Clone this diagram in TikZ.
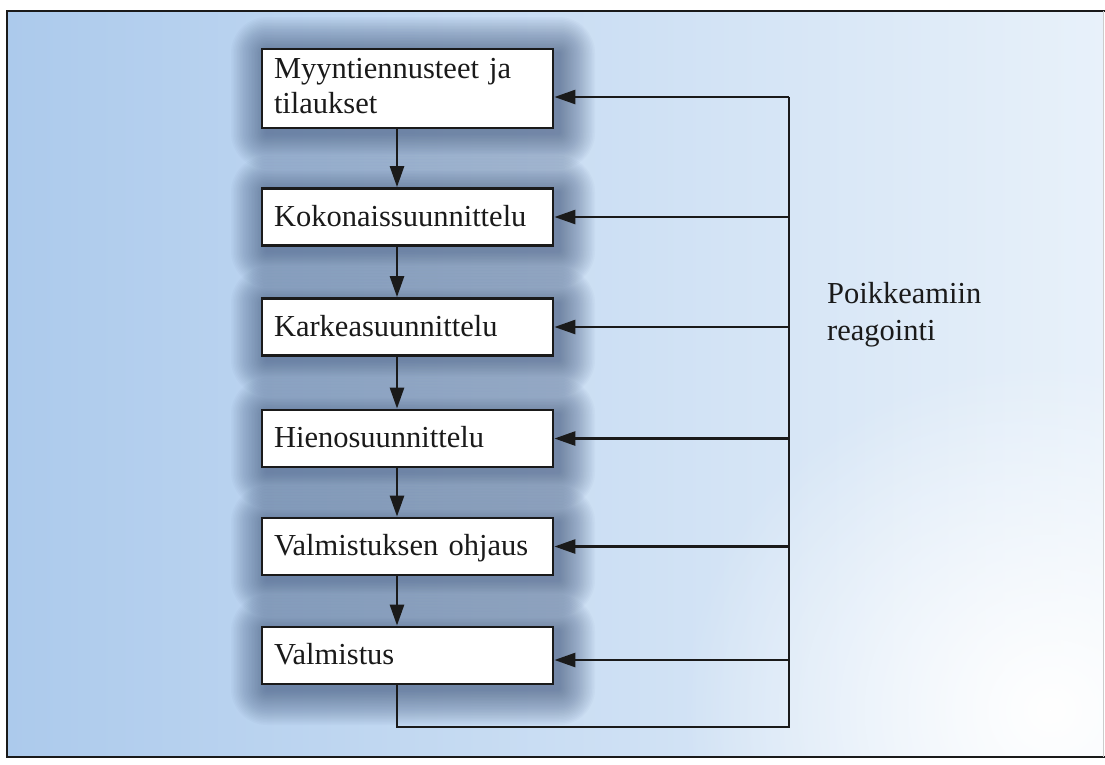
\documentclass[tikz,border=0pt]{standalone}
\usepackage{fontspec}
\setmainfont{Liberation Serif}
\usetikzlibrary{arrows.meta,fadings}
\definecolor{inkc}{HTML}{1A1A1A}
\definecolor{bgL}{HTML}{ACCAEC}
\definecolor{bgM}{HTML}{CFE1F5}
\definecolor{bgR}{HTML}{E8F1FA}
\definecolor{haloc}{HTML}{2A4068}
\tikzfading[name=fadeBR, inner color=transparent!0, outer color=transparent!100]
\begin{document}
\begin{tikzpicture}[x=1pt,y=-1pt,
  every node/.style={font=\fontsize{30.5}{35}\selectfont, text=inkc},
  stage/.style={draw=inkc, line width=2.8pt, fill=white, text width=267pt,
    inner xsep=12pt, inner ysep=0pt, align=left, minimum height=57pt},
  single/.style={text height=22pt, text depth=4pt},
  conn/.style={draw=inkc, line width=2.7pt, line join=miter},
  arr/.style={conn, -{Triangle[length=21pt,width=14pt]}},
  halofill/.style={fill=haloc, opacity=0.026},
]
\useasboundingbox (0,0) rectangle (1105,764);
\fill[white] (0,0) rectangle (1105,764);
% background
\shade[left color=bgL, middle color=bgM, right color=bgR] (7,11) rectangle (1103,757);
\begin{scope}
  \clip (7,11) rectangle (1103,757);
  \fill[white, path fading=fadeBR] (680,360) rectangle (1420,1060);
\end{scope}
% frame
\draw[inkc, line width=2.6pt] (1105,11) -- (7,11) -- (7,757) -- (1105,757);
\draw[gray!40, line width=0.8pt] (1103,11) -- (1103,757);
% halos
\foreach \cy/\hh in {88.5/39.5, 217/29, 327/28, 438.5/28.5, 546.5/28.5, 655.5/28.5}{
  \foreach \s in {1.5,3,...,36}{
    \fill[halofill, rounded corners=\s pt]
      ({262-\s+5},{\cy-\hh-\s+4}) rectangle ({553+\s+6},{\cy+\hh+\s+5});
  }
}
% boxes
\node[stage, minimum height=79pt] (b1) at (407.5,88.5) {Myyntiennusteet ja\\tilaukset\rule[-6pt]{0pt}{0pt}};
\node[stage, single] (b2) at (407.5,217) {Kokonaissuunnittelu};
\node[stage, single] (b3) at (407.5,327) {Karkeasuunnittelu};
\node[stage, single] (b4) at (407.5,438.5) {Hienosuunnittelu};
\node[stage, single] (b5) at (407.5,546.5) {Valmistuksen ohjaus};
\node[stage, single] (b6) at (407.5,655.5) {Valmistus};
% label
\node[font=\fontsize{30.5}{37}\selectfont, anchor=north west, inner sep=0pt, align=left] (lab) at (827,282) {Poikkeamiin\\reagointi};
% coordinates
\coordinate (rt) at (789,97);
\coordinate (rb) at (789,727);
\coordinate (lb) at (397,727);
\coordinate (r6) at (789,660);
% down arrows
\draw[arr] (b1.south -| lb) -- (b2.north -| lb);
\draw[arr] (b2.south -| lb) -- (b3.north -| lb);
\draw[arr] (b3.south -| lb) -- (b4.north -| lb);
\draw[arr] (b4.south -| lb) -- (b5.north -| lb);
\draw[arr] (b5.south -| lb) -- (b6.north -| lb);
% feedback loop
\draw[conn] (b6.south -| lb) -- (lb) -- (rb) -- (rt);
\draw[arr] (rt) -- (rt -| b1.east);
\draw[arr] (b2.east -| rt) -- (b2.east);
\draw[arr] (b3.east -| rt) -- (b3.east);
\draw[arr] (b4.east -| rt) -- (b4.east);
\draw[arr] (b5.east -| rt) -- (b5.east);
\draw[arr] (r6) -- (r6 -| b6.east);
\end{tikzpicture}
\end{document}
